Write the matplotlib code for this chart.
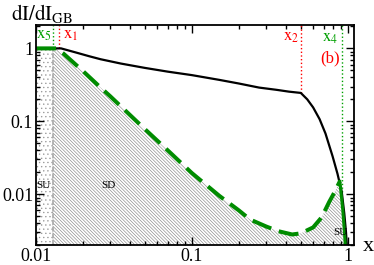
import numpy as np
import matplotlib
matplotlib.use('Agg')
import matplotlib.pyplot as plt

plt.rcParams['font.family'] = ['Liberation Serif', 'DejaVu Serif']
plt.rcParams['mathtext.fontset'] = 'stix'
plt.rcParams['hatch.linewidth'] = 0.45
plt.rcParams['hatch.color'] = '#888888'

# black curve: total dI/dI_GB
black_x = [0.01, 0.0145, 0.018, 0.022, 0.026, 0.035, 0.05, 0.07, 0.1, 0.15, 0.2, 0.27,
           0.35, 0.42, 0.5, 0.55, 0.6, 0.66, 0.72, 0.8, 0.86, 0.916, 0.95, 0.975, 0.99, 1.0]
black_y = [1.0, 1.0, 0.88, 0.78, 0.71, 0.62, 0.54, 0.48, 0.43, 0.37, 0.33, 0.29,
           0.27, 0.255, 0.245, 0.20, 0.155, 0.107, 0.068, 0.033, 0.019, 0.0107, 0.0055, 0.003, 0.0018, 0.0012]

# green dashed curve
green_x = [0.01, 0.0135, 0.015, 0.02, 0.026, 0.03, 0.05, 0.07, 0.1, 0.15, 0.2, 0.236,
           0.3, 0.36, 0.44, 0.5, 0.6, 0.68, 0.76, 0.82, 0.89]
green_y = [1.0, 1.0, 0.85, 0.49, 0.29, 0.22, 0.078, 0.04, 0.0195, 0.0095, 0.006, 0.0045,
           0.0036, 0.0031, 0.0028, 0.0029, 0.0035, 0.0048, 0.0078, 0.0105, 0.015]
# green solid tail along the black curve
tail_x = [0.89, 0.91, 0.93, 0.95, 0.965]
tail_y = [0.015, 0.0095, 0.006, 0.0033, 0.002]

x5, x1, x2, x4 = 0.0128, 0.014, 0.50, 0.916
ymin, ymax = 0.002, 2.1

fig = plt.figure(figsize=(3.74, 2.65), dpi=100)
ax = fig.add_axes([0.096, 0.075, 0.851, 0.831])
ax.set_xscale('log')
ax.set_yscale('log')
ax.set_xlim(0.01, 1.1)
ax.set_ylim(ymin, ymax)

# shaded regions
ax.fill_between([0.01, x5], ymin, 1.0, facecolor='none', edgecolor='#999999',
                hatch='....', linewidth=0)
sd_x = [x5] + green_x[1:] + tail_x[1:]
sd_y = [1.0] + green_y[1:] + tail_y[1:]
ax.fill_between(sd_x, ymin, sd_y, facecolor='none', edgecolor='#888888',
                hatch='\\' * 10, linewidth=0)

# vertical markers
ax.plot([x5, x5], [ymin, 1.0], color='#aaaaaa', lw=1.2, ls=(0, (3, 1)))
ax.plot([x5, x5], [1.0, ymax], color='#00a000', lw=1.0, ls=':')
ax.plot([x1, x1], [1.0, ymax], color='red', lw=1.0, ls=':')
ax.plot([x2, x2], [0.245, ymax], color='red', lw=1.0, ls=':')
ax.plot([x4, x4], [0.0107, ymax], color='#00a000', lw=1.0, ls=':')

ax.plot(black_x, black_y, color='black', lw=1.6)
ax.plot(green_x, green_y, color='#008c00', lw=2.9, dashes=(5, 2))
ax.plot(tail_x, tail_y, color='#008c00', lw=2.2)

ax.text(0.0113, 1.55, r'$\mathrm{x}_5$', color='#00a000', fontsize=12, ha='center', va='center')
ax.text(0.0168, 1.55, r'$\mathrm{x}_1$', color='red', fontsize=12, ha='center', va='center')
ax.text(0.43, 1.45, r'$\mathrm{x}_2$', color='red', fontsize=12, ha='center', va='center')
ax.text(0.77, 1.4, r'$\mathrm{x}_4$', color='#00a000', fontsize=12, ha='center', va='center')
ax.text(0.77, 0.73, '(b)', color='red', fontsize=12, ha='center', va='center')
ax.text(0.0111, 0.0132, 'SU', fontsize=8, ha='center', va='center')
ax.text(0.029, 0.0132, 'SD', fontsize=8, ha='center', va='center')
ax.text(0.9, 0.003, 'SU', fontsize=8, ha='center', va='center')

ax.set_xticks([0.01, 0.1, 1])
ax.set_xticklabels(['0.01', '0.1', '1'])
ax.set_yticks([0.01, 0.1, 1])
ax.set_yticklabels(['0.01', '0.1', '1'])
ax.tick_params(which='both', direction='in', top=True, right=True, labelsize=13, width=1)
ax.tick_params(which='major', length=6, pad=2)
ax.tick_params(which='minor', length=3)
for s in ax.spines.values():
    s.set_linewidth(1.3)

fig.text(0.03, 0.95, r'$\mathrm{dI/dI_{GB}}$', fontsize=15, ha='left', va='center')
fig.text(0.985, 0.07, 'x', fontsize=16, ha='center', va='center')

fig.savefig('out.png', dpi=100)
